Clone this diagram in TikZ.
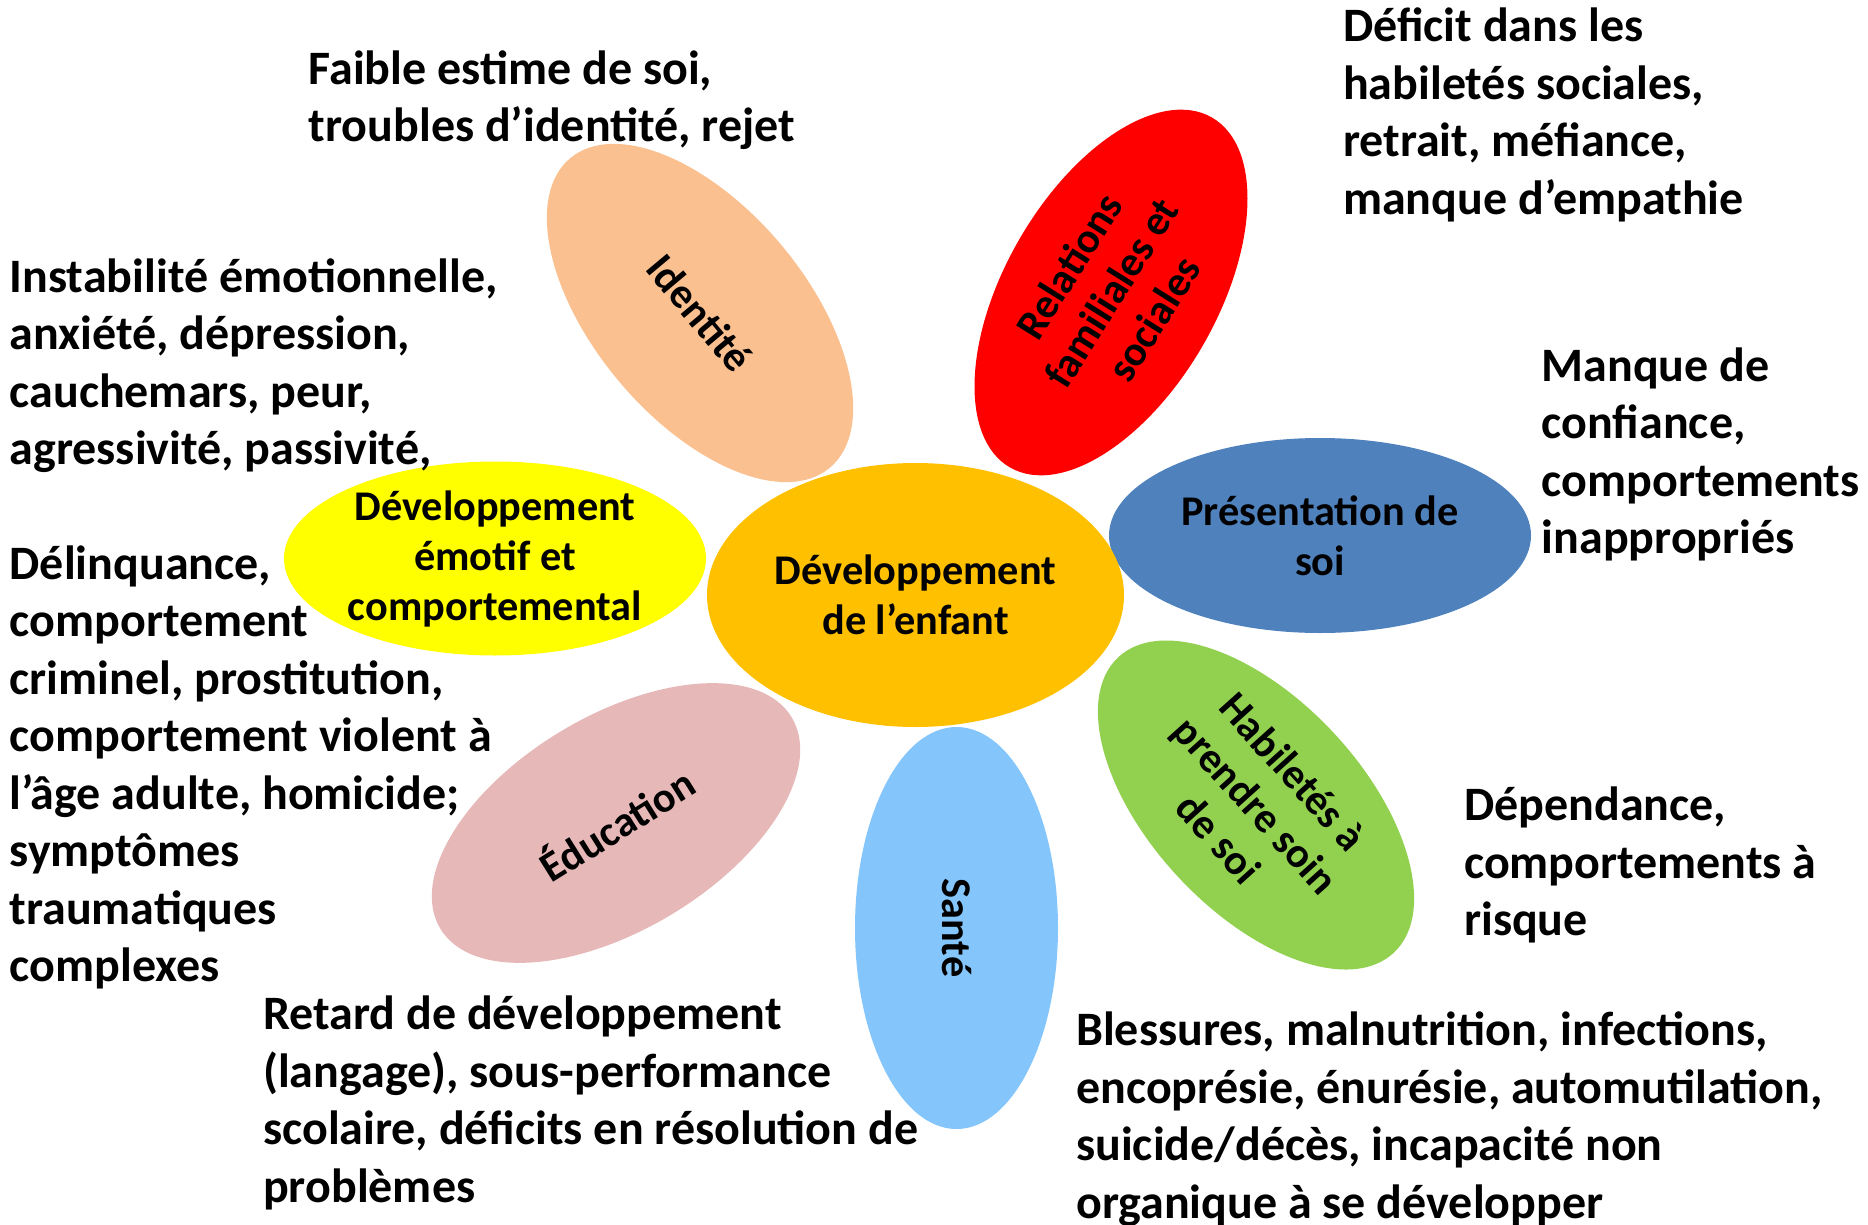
\documentclass[tikz,border=0pt]{standalone}
\usepackage{fontspec}
\setmainfont{Carlito}
\usetikzlibrary{shapes.geometric}
\definecolor{cPeach}{HTML}{FAC090}
\definecolor{cRed}{HTML}{FF0000}
\definecolor{cBlue}{HTML}{4F81BD}
\definecolor{cGreen}{HTML}{92D050}
\definecolor{cSky}{HTML}{84C5FB}
\definecolor{cPink}{HTML}{E6B9B8}
\definecolor{cYellow}{HTML}{FFFF00}
\definecolor{cGold}{HTML}{FFC000}
\begin{document}
\begin{tikzpicture}[x=1pt,y=-1pt,
  petal/.style={ellipse, draw=none, inner sep=0pt, outer sep=0pt},
  ptext/.style={align=center, inner sep=0pt, font=\fontsize{42.3}{50}\selectfont\bfseries},
  desc/.style={align=left, inner sep=0pt, anchor=base west, font=\fontsize{48}{57.5}\selectfont\bfseries}]
\useasboundingbox (0,0) rectangle (1868,1225);
% petals
\node[petal, fill=cPeach, minimum width=404pt, minimum height=212pt, rotate=-50] (id) at (700,313) {};
\node[petal, fill=cRed, minimum width=404pt, minimum height=212pt, rotate=60] (rel) at (1111,292.5) {};
\node[petal, fill=cBlue, minimum width=422pt, minimum height=195pt] (pres) at (1320,535.5) {};
\node[petal, fill=cGreen, minimum width=404pt, minimum height=212pt, rotate=-47] (hab) at (1256,805) {};
\node[petal, fill=cSky, minimum width=402pt, minimum height=203pt, rotate=-90] (sante) at (956.5,928) {};
\node[petal, fill=cPink, minimum width=410pt, minimum height=214pt, rotate=31] (edu) at (616,823) {};
\node[petal, fill=cYellow, minimum width=422pt, minimum height=194pt] (emo) at (495,558.5) {};
\node[petal, fill=cGold, minimum width=417pt, minimum height=264pt] (centre) at (915.5,595) {};
% petal labels
\node[ptext, rotate=-50] (tid) at (id.center) {Identité};
\node[ptext, rotate=58] (trel) at (rel.center) {Relations\\familiales et\\sociales};
\node[ptext] (tpres) at (pres.center) {Présentation de\\soi};
\node[ptext, rotate=-48] (thab) at (hab.center) {Habiletés à\\prendre soin\\de soi};
\node[ptext, rotate=-90] (tsante) at (sante.center) {Santé};
\node[ptext, rotate=32] (tedu) at (edu.center) {Éducation};
\node[ptext] (temo) at (emo.center) {Développement\\émotif et\\comportemental};
\node[ptext] (tcentre) at (centre.center) {Développement\\de l’enfant};
% descriptions (anchor = baseline of the last line)
\node[desc] (dA) at (308.5,142) {Faible estime de soi,\\troubles d’identité, rejet};
\node[desc] (dB) at (1343,214.5) {Déficit dans les\\habiletés sociales,\\retrait, méfiance,\\manque d’empathie};
\node[desc] (dC) at (9.5,464.5) {Instabilité émotionnelle,\\anxiété, dépression,\\cauchemars, peur,\\agressivité, passivité,};
\node[desc] (dD) at (9.5,981.5) {Délinquance,\\comportement\\criminel, prostitution,\\comportement violent à\\l’âge adulte, homicide;\\symptômes\\traumatiques\\complexes};
\node[desc] (dE) at (1541.5,553.5) {Manque de\\confiance,\\comportements\\inappropriés};
\node[desc] (dF) at (1464,935.5) {Dépendance,\\comportements à\\risque};
\node[desc] (dG) at (263,1202) {Retard de développement\\(langage), sous-performance\\scolaire, déficits en résolution de\\problèmes};
\node[desc] (dH) at (1076,1218) {Blessures, malnutrition, infections,\\encoprésie, énurésie, automutilation,\\suicide/décès, incapacité non\\organique à se développer};
\end{tikzpicture}
\end{document}
